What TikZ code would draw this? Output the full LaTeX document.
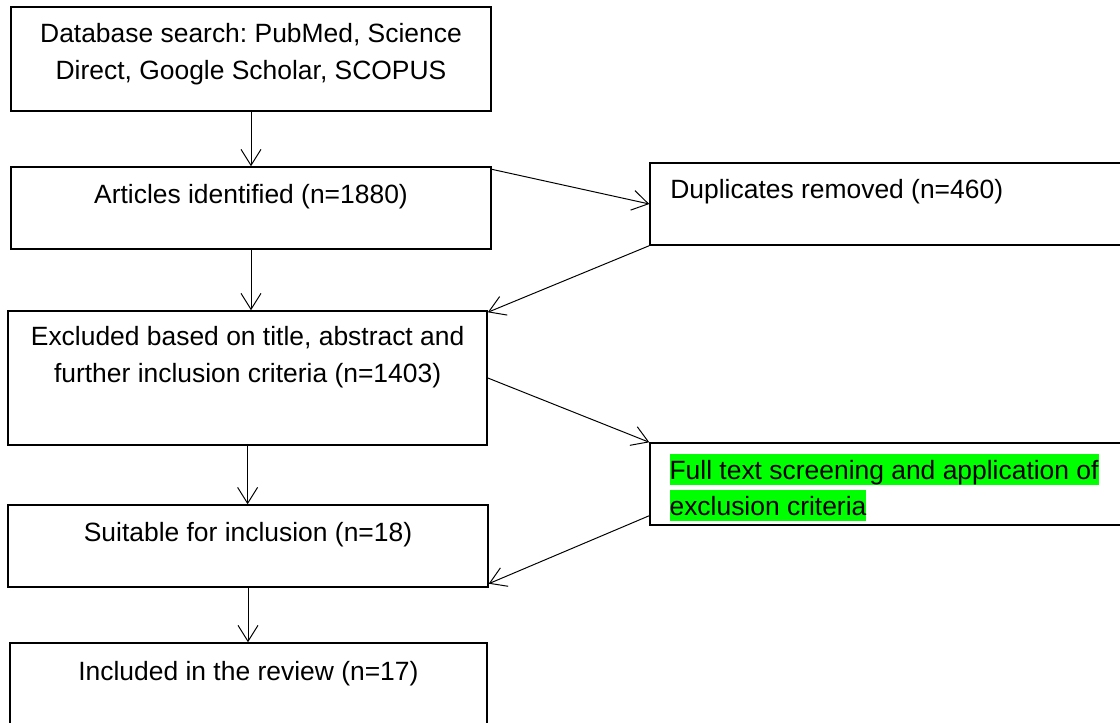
\documentclass[tikz,border=0pt]{standalone}
\usepackage{fontspec}
\setmainfont{Liberation Sans}
\usetikzlibrary{arrows.meta,positioning}
\definecolor{markGreen}{HTML}{00FF00}
\setlength{\fboxsep}{0pt}
\frenchspacing
\newcommand{\markline}[1]{\colorbox{markGreen}{\rule[-0.21em]{0pt}{1.17em}#1}}

\begin{document}
\begin{tikzpicture}[
  >={Straight Barb[length=4mm, width=5mm]},
  font=\fontsize{18.8pt}{26pt}\selectfont,
  stage/.style={draw=black, line width=1pt, minimum width=12.0cm, minimum height=2.05cm, inner sep=0pt},
  sidebox/.style={draw=black, line width=1pt, minimum width=12.35cm, minimum height=2.05cm, inner sep=0pt},
  boxtext/.style={inner sep=0pt, align=center},
  sidetext/.style={inner sep=0pt, align=left},
  flow/.style={->, line width=0.7pt}
]
\useasboundingbox (0,0) rectangle (28,18.075);
\clip (0,0) rectangle (28,18.075);

\node[stage, minimum height=2.6cm] (search) at (6.275,16.6) {};
\node[stage] (ident) at (6.275,12.875) {};
\node[stage, minimum width=11.975cm, minimum height=3.35cm] (excl) at (6.19,8.625) {};
\node[stage] (suit) at (6.2,4.425) {};
\node[stage, minimum width=11.925cm, minimum height=2.6cm] (incl) at (6.21,0.7) {};
\node[sidebox] (dup) at (22.425,12.975) {};
\node[sidebox] (full) at (22.425,5.975) {};

\node[boxtext, below=0.42cm of search.north] (searchtext) {Database search: PubMed, Science\\Direct, Google Scholar, SCOPUS};
\node[boxtext, below=0.45cm of ident.north] (identtext) {Articles identified (n=1880)};
\node[boxtext, below=0.4cm of excl.north] (excltext) {Excluded based on title, abstract and\\further inclusion criteria (n=1403)};
\node[boxtext, below=0.45cm of suit.north] (suittext) {Suitable for inclusion (n=18)};
\node[boxtext, below=0.47cm of incl.north] (incltext) {Included in the review (n=17)};
\node[sidetext, below right=0.43cm and 0.52cm of dup.north west] (duptext) {Duplicates removed (n=460)};
\node[sidetext, below right=0.28cm and 0.5cm of full.north west] (fulltext) {\markline{Full text screening and application of}\\\markline{exclusion criteria}};

\draw[flow] (search.south) -- (search.south |- ident.north);
\draw[flow] (ident.south) -- (ident.south |- excl.north);
\draw[flow] (excl.south) -- (excl.south |- suit.north);
\draw[flow] (suit.south) -- (suit.south |- incl.north);
\draw[flow] ([yshift=-0.075cm]ident.north east) -- (dup.west);
\draw[flow] (dup.south west) -- ([yshift=-0.05cm]excl.north east);
\draw[flow] (excl.east) -- (full.north west);
\draw[flow] ([yshift=0.25cm]full.south west) -- ([yshift=0.1cm]suit.south east);
\end{tikzpicture}
\end{document}
